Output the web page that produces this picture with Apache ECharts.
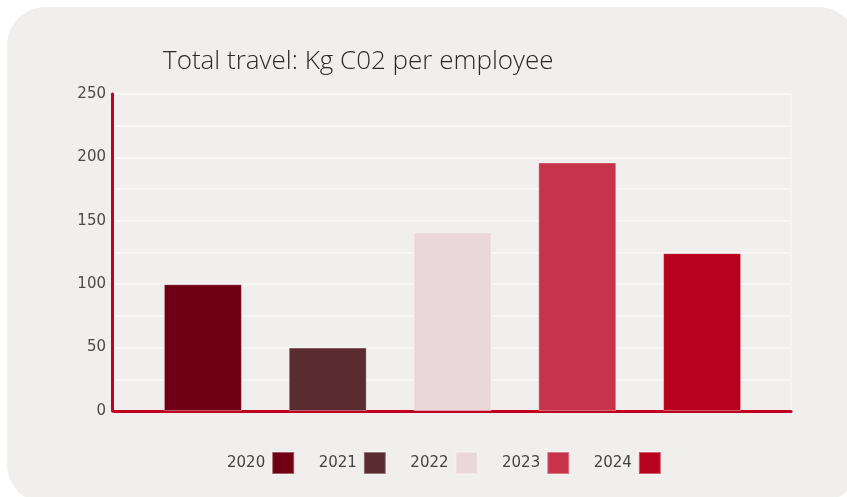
<!DOCTYPE html>
<html>
<head>
<meta charset="utf-8">
<script src="https://cdn.jsdelivr.net/npm/echarts@6/dist/echarts.min.js"></script>
<style>
html,body{margin:0;padding:0;background:#ffffff;}
#card{position:absolute;left:7px;top:7px;width:850px;height:496px;background:#f1efed;border-radius:38px;}
#chart{position:absolute;left:0;top:0;width:847px;height:497px;}
</style>
</head>
<body>
<div id="card"></div>
<div id="chart"></div>
<script>
const years = ['2020', '2021', '2022', '2023', '2024'];
const values = [100, 50, 141, 196, 124.5];
const colors = ['#6f0016', '#5b2b32', '#ead7d9', '#c6334b', '#b8001f'];
const yTicks = [0, 50, 100, 150, 200, 250];

const chart = echarts.init(document.getElementById('chart'), null, {renderer: 'canvas'});
const series = years.map((y, i) => ({
  name: y,
  type: 'bar',
  data: [values[i]],
  barWidth: 78,
  barGap: '60%',
  itemStyle: {color: colors[i], borderColor: 'rgba(255,255,255,0.35)', borderWidth: 1},
  emphasis: {disabled: true}
}));

chart.setOption({
  backgroundColor: 'transparent',
  animation: false,
  title: {
    text: 'Total travel: Kg C02 per employee',
    left: 158, top: 44,
    textStyle: {fontFamily: 'Open Sans', fontSize: 26, fontWeight: 300, color: '#2a2a2a'}
  },
  legend: {
    data: years,
    left: 227, top: 451,
    padding: 0,
    align: 'right',
    icon: 'rect',
    itemWidth: 22, itemHeight: 22,
    itemGap: 23.5,
    textStyle: {fontFamily: 'DejaVu Sans', fontSize: 15, color: '#444', padding: [0, 2, 0, 0]},
    selectedMode: false
  },
  grid: {
    left: 114, right: 56, top: 94, bottom: 86,
    show: true, borderColor: '#faf9f8', borderWidth: 1, backgroundColor: 'transparent'
  },
  xAxis: {
    type: 'category',
    data: [''],
    axisLine: {show: true, lineStyle: {color: '#c0001f', width: 3}},
    axisTick: {show: false},
    axisLabel: {show: false},
    splitLine: {show: false}
  },
  yAxis: {
    type: 'value',
    min: 0, max: 250, interval: 25,
    offset: 2,
    axisLine: {show: true, lineStyle: {color: '#c0001f', width: 3}},
    axisTick: {show: false},
    axisLabel: {
      fontFamily: 'DejaVu Sans', fontSize: 15, color: '#4a4a4a', margin: 6,
      formatter: v => yTicks.includes(v) ? String(v) : ''
    },
    splitLine: {show: true, lineStyle: {color: '#faf9f8', width: 1.5}}
  },
  series: series
});
</script>
</body>
</html>
